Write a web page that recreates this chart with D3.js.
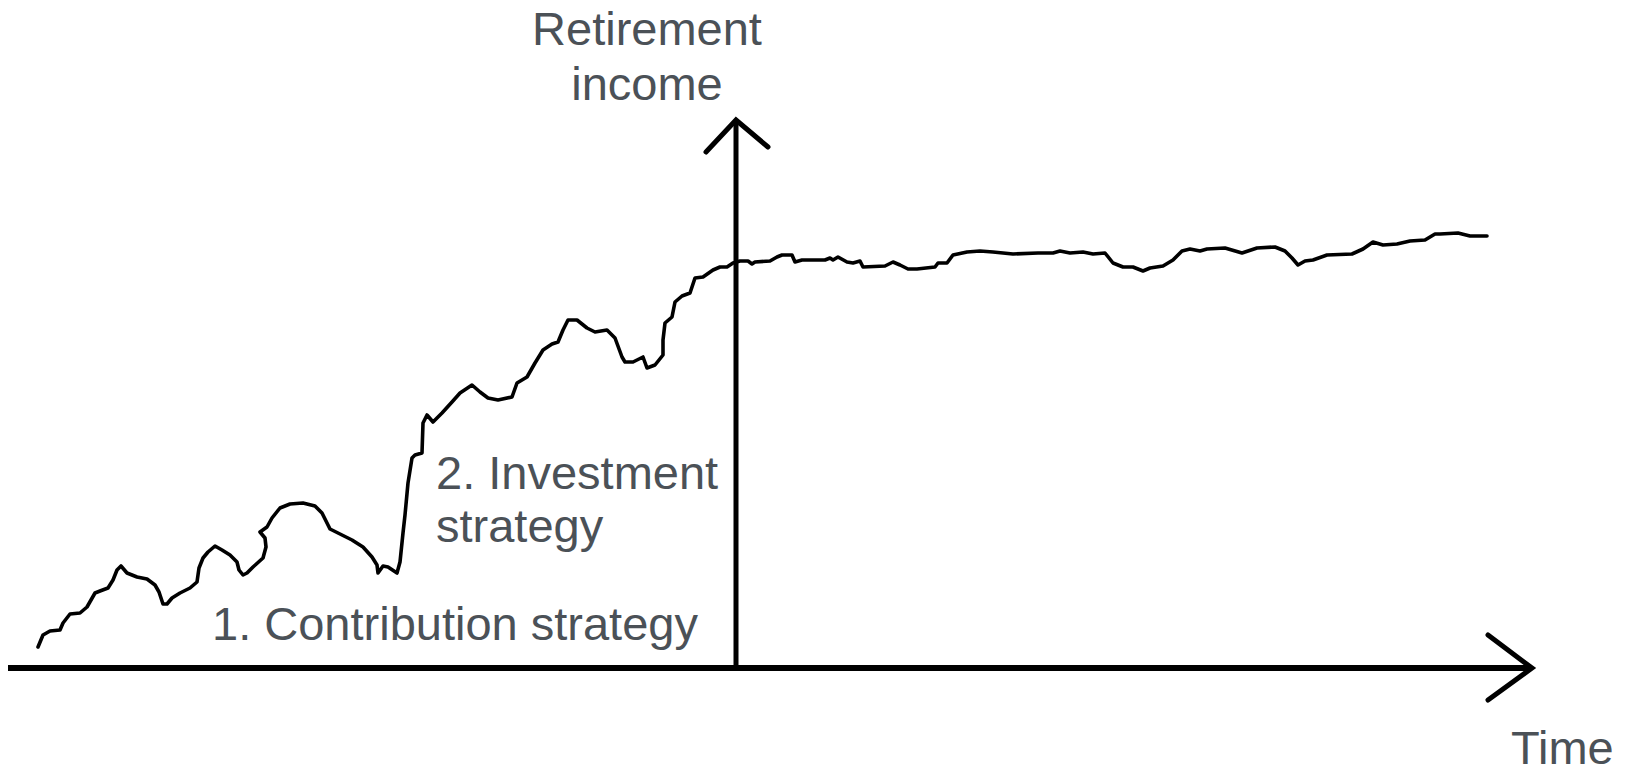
<!DOCTYPE html>
<html>
<head>
<meta charset="utf-8">
<script src="https://cdn.jsdelivr.net/npm/d3@7"></script>
<style>
  html, body { margin: 0; padding: 0; background: #fff; }
  svg { display: block; }
  .label { font-family: "Liberation Sans", Arial, sans-serif; font-size: 47px; fill: #4b5157; }
</style>
</head>
<body>
<svg width="1627" height="769"></svg>
<script>
'use strict'

// time (arbitrary units) and retirement income (arbitrary units)
var time = [30, 35, 42, 52, 55, 62, 72, 79, 87, 92, 100, 105, 109, 113, 119, 129, 139, 147, 151, 155,
  159, 164, 172, 182, 189, 191, 195, 200, 207, 214, 222, 229, 231, 235, 239, 245, 255, 258, 257, 252,
  259, 264, 272, 282, 295, 307, 314, 322, 332, 344, 355, 364, 369, 370, 375, 380, 389, 392, 395, 397,
  400, 404, 407, 414, 415, 419, 425, 434, 444, 452, 464, 472, 480, 490, 504, 509, 519, 527, 535, 544,
  550, 555, 560, 569, 579, 587, 599, 607, 614, 617, 625, 635, 639, 647, 655, 655, 657, 664, 667, 674,
  682, 687, 695, 705, 712, 719, 725, 732, 740, 744, 747, 762, 769, 774, 784, 787, 794, 817, 822, 825,
  830, 839, 845, 852, 855, 877, 885, 892, 900, 909, 927, 930, 939, 945, 959, 972, 985, 1005, 1030, 1045,
  1052, 1062, 1075, 1085, 1097, 1105, 1115, 1125, 1135, 1142, 1155, 1165, 1174, 1182, 1192, 1199, 1217, 1234, 1249, 1267,
  1277, 1284, 1290, 1297, 1305, 1319, 1344, 1355, 1365, 1375, 1389, 1402, 1417, 1427, 1432, 1450, 1462, 1479];

var income = [21, 33, 37, 38, 45, 54, 55, 61, 75, 77, 80, 88, 98, 102, 95, 91, 89, 83, 76, 64,
  64, 70, 75, 80, 86, 100, 110, 116, 122, 118, 113, 106, 98, 93, 95, 101, 110, 121, 130, 136,
  141, 150, 160, 164, 165, 162, 155, 139, 134, 128, 121, 111, 103, 95, 102, 101, 95, 106, 135, 153,
  185, 210, 213, 215, 245, 253, 246, 255, 266, 275, 283, 276, 270, 268, 271, 285, 291, 305, 318, 324,
  326, 338, 348, 348, 340, 336, 338, 330, 311, 306, 306, 311, 300, 303, 313, 328, 345, 351, 366, 372,
  375, 390, 391, 398, 401, 401, 405, 407, 407, 404, 406, 407, 411, 413, 413, 406, 408, 408, 410, 408,
  411, 406, 405, 407, 401, 402, 406, 403, 399, 399, 401, 405, 405, 413, 416, 417, 416, 414, 415, 415,
  417, 415, 416, 414, 415, 405, 401, 401, 397, 400, 402, 408, 417, 419, 417, 419, 420, 415, 420, 421,
  417, 410, 403, 407, 408, 413, 414, 419, 426, 423, 424, 427, 428, 434, 434, 435, 432, 432];

var timeExtent = [0, 1524];
var incomeExtent = [0, 548];
var yAxisAt = 728;

var data = time.map(function(t, i) {
  return { t: t, v: income[i] };
});

var svg = d3.select("svg");

var x = d3.scaleLinear().domain(timeExtent).range([8, 1532]);
var y = d3.scaleLinear().domain(incomeExtent).range([668, 120]);

var line = d3.line()
  .x(function(d) { return x(d.t); })
  .y(function(d) { return y(d.v); });

// income path
svg.append("path")
  .datum(data)
  .attr("fill", "none")
  .attr("stroke", "#000")
  .attr("stroke-width", 3.6)
  .attr("stroke-linejoin", "round")
  .attr("stroke-linecap", "round")
  .attr("d", line);

var axes = svg.append("g")
  .attr("stroke", "#000")
  .attr("fill", "none")
  .attr("stroke-linecap", "round");

// x axis
axes.append("line")
  .attr("x1", x(timeExtent[0]))
  .attr("x2", x(timeExtent[1]) - 3)
  .attr("y1", y(0))
  .attr("y2", y(0))
  .attr("stroke-width", 6)
  .attr("stroke-linecap", "butt");

axes.append("path")
  .attr("stroke-width", 5)
  .attr("stroke-linejoin", "miter")
  .attr("d", "M" + (x(timeExtent[1]) - 44) + "," + (y(0) - 33) +
    "L" + x(timeExtent[1]) + "," + y(0) +
    "L" + (x(timeExtent[1]) - 44) + "," + (y(0) + 32));

// y axis
axes.append("line")
  .attr("x1", x(yAxisAt))
  .attr("x2", x(yAxisAt))
  .attr("y1", y(0) + 3)
  .attr("y2", y(incomeExtent[1]) + 3)
  .attr("stroke-width", 5)
  .attr("stroke-linecap", "butt");

axes.append("path")
  .attr("stroke-width", 5)
  .attr("stroke-linejoin", "miter")
  .attr("d", "M" + (x(yAxisAt) - 30) + "," + (y(incomeExtent[1]) + 32) +
    "L" + x(yAxisAt) + "," + y(incomeExtent[1]) +
    "L" + (x(yAxisAt) + 32) + "," + (y(incomeExtent[1]) + 27));

// labels
var labels = svg.append("g").attr("class", "label");

labels.append("text")
  .attr("x", 647).attr("y", 45)
  .attr("text-anchor", "middle")
  .text("Retirement");
labels.append("text")
  .attr("x", 647).attr("y", 100)
  .attr("text-anchor", "middle")
  .text("income");

labels.append("text")
  .attr("x", 436).attr("y", 489)
  .text("2. Investment");
labels.append("text")
  .attr("x", 436).attr("y", 542)
  .text("strategy");

labels.append("text")
  .attr("x", 212).attr("y", 640)
  .text("1. Contribution strategy");

labels.append("text")
  .attr("x", 1511).attr("y", 764)
  .text("Time");
</script>
</body>
</html>
